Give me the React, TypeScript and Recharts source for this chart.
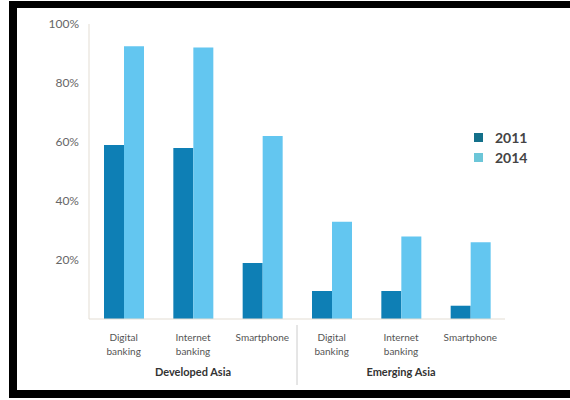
import React from 'react';
import { BarChart, Bar, XAxis, YAxis } from 'recharts';

const categories = [
  'Digital banking',
  'Internet banking',
  'Smartphone',
  'Digital banking',
  'Internet banking',
  'Smartphone',
];
const groups = ['Developed Asia', 'Developed Asia', 'Developed Asia', 'Emerging Asia', 'Emerging Asia', 'Emerging Asia'];
const values2011 = [59, 58, 19, 9.5, 9.5, 4.5];
const values2014 = [92.5, 92, 62, 33, 28, 26];
const yTicks = [20, 40, 60, 80, 100];
const legendItems = [
  { label: '2011', color: '#13708a' },
  { label: '2014', color: '#6cc6d8' },
];

const data = categories.map((name, i) => ({
  name,
  group: groups[i],
  y2011: values2011[i],
  y2014: values2014[i],
}));

const WIDTH = 570;
const HEIGHT = 400;
const MARGIN = { top: 24, right: 65, left: 29, bottom: 11 };
const Y_AXIS_W = 60;
const PLOT_W = WIDTH - MARGIN.left - MARGIN.right - Y_AXIS_W;
const BAND = PLOT_W / categories.length;

const DARK = '#0e7fb5';
const LIGHT = '#63c6f0';

function CategoryTick(props: any) {
  const { x, y, payload, index } = props;
  const words = String(payload.value).split(' ');
  const lines = words.length > 1 ? words : [payload.value];
  const showGroup = index === 1 || index === 4;
  const separator = index === 3;
  return (
    <g>
      {lines.map((line: string, i: number) => (
        <text
          key={i}
          x={x}
          y={y + 14 + i * 14}
          textAnchor="middle"
          fontSize={10}
          fill="#555"
          fontFamily="Lato, sans-serif"
        >
          {line}
        </text>
      ))}
      {showGroup && (
        <text
          x={x}
          y={y + 49}
          textAnchor="middle"
          fontSize={11}
          fontWeight="bold"
          fill="#333"
          fontFamily="Lato, sans-serif"
        >
          {groups[index]}
        </text>
      )}
      {separator && (
        <line x1={x - BAND / 2} x2={x - BAND / 2} y1={y - 2} y2={y + 58} stroke="#ccc" strokeWidth={1} />
      )}
    </g>
  );
}

export default function App() {
  return (
    <div style={{ position: 'absolute', left: 0, top: 0, width: WIDTH, height: HEIGHT, background: '#fff' }}>
      <div
        style={{
          position: 'absolute',
          left: 9,
          top: 1,
          width: WIDTH - 9,
          height: 397,
          boxSizing: 'border-box',
          borderLeft: '8px solid #000',
          borderTop: '7px solid #000',
          borderBottom: '8px solid #000',
        }}
      />
      <div style={{ position: 'absolute', left: 0, top: 0 }}>
        <BarChart width={WIDTH} height={HEIGHT} data={data} margin={MARGIN} barGap={0} barCategoryGap={15}>
          <XAxis
            dataKey="name"
            height={70}
            interval={0}
            tickLine={false}
            axisLine={{ stroke: '#e3ddd3' }}
            tick={<CategoryTick />}
          />
          <YAxis
            width={Y_AXIS_W}
            domain={[0, 100]}
            ticks={yTicks}
            tickFormatter={(v: number) => `${v}%`}
            tickLine={false}
            axisLine={{ stroke: '#e3ddd3' }}
            tick={{ fontSize: 12, fill: '#666', fontFamily: 'Lato, sans-serif' }}
            tickMargin={4}
          />
          <Bar dataKey="y2011" name="2011" fill={DARK} isAnimationActive={false} />
          <Bar dataKey="y2014" name="2014" fill={LIGHT} isAnimationActive={false} />
        </BarChart>
      </div>
      <div style={{ position: 'absolute', left: 474, top: 127 }}>
        {legendItems.map((it) => (
          <div key={it.label} style={{ display: 'flex', alignItems: 'center', height: 20 }}>
            <span style={{ display: 'inline-block', width: 9, height: 9, background: it.color, marginRight: 12 }} />
            <span style={{ fontSize: 14, fontWeight: 'bold', color: '#444', fontFamily: 'Lato, sans-serif' }}>
              {it.label}
            </span>
          </div>
        ))}
      </div>
    </div>
  );
}
